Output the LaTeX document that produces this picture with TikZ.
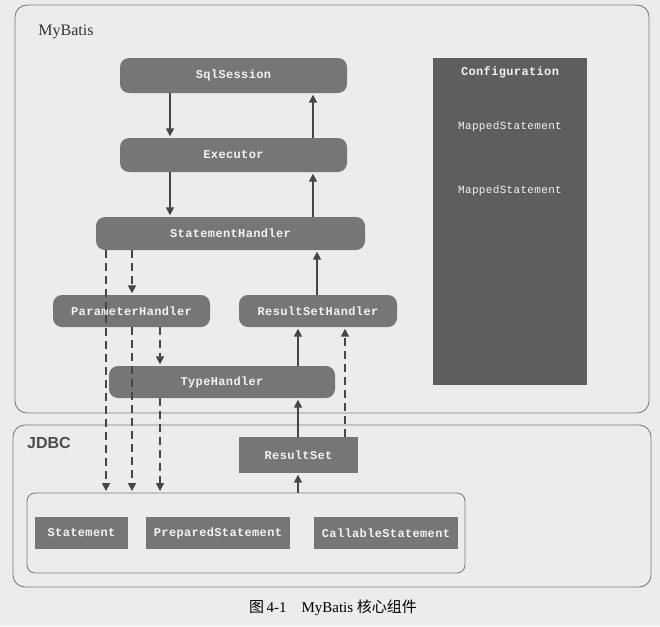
\documentclass[tikz,border=0pt]{standalone}
\usepackage{fontspec}
\setmainfont{Liberation Serif}
\setsansfont{Liberation Sans}
\newfontfamily\codefont[LetterSpace=3]{Liberation Mono}
\newfontfamily\cjk{Noto Sans CJK SC}
\usetikzlibrary{arrows.meta}
\definecolor{paper}{RGB}{236,236,234}
\definecolor{boxgray}{RGB}{118,118,118}
\definecolor{panelgray}{RGB}{94,94,94}
\definecolor{linegray}{RGB}{70,70,70}
\definecolor{framegray}{RGB}{125,125,125}
\definecolor{txtwhite}{RGB}{242,242,242}

\begin{document}
\begin{tikzpicture}
[x=1pt,y=-1pt,
 comp/.style={rounded corners=9pt,fill=boxgray,text=txtwhite,inner sep=0pt,
   font=\codefont\bfseries\fontsize{12}{13}\selectfont},
 jdbcbox/.style={fill=boxgray,text=txtwhite,inner sep=0pt,
   font=\codefont\bfseries\fontsize{12}{13}\selectfont},
 panel/.style={fill=panelgray,inner sep=0pt},
 paneltext/.style={text=txtwhite,font=\codefont\fontsize{11}{12}\selectfont},
 layer/.style={draw=framegray,line width=0.9pt,rounded corners=12pt},
 flow/.style={draw=linegray,line width=1.6pt,shorten >=1.5pt,-{Triangle[length=8pt,width=8pt]}},
 dflow/.style={flow,dash pattern=on 8pt off 5pt}]
\fill[paper] (0,0) rectangle (660,626);
\useasboundingbox (0,0) rectangle (660,626);
\draw[layer] (15,5) rectangle (649,413);
\draw[layer] (13,425) rectangle (651,587);
\node[font=\fontsize{16}{18}\selectfont,text=black!80] (mblbl) at (66,32) {MyBatis};
\node[font=\sffamily\bfseries\fontsize{16}{18}\selectfont,text=black!70] (jdbclbl) at (49,443) {JDBC};

\node[comp,minimum width=227pt,minimum height=35pt] (sq) at (233.5,75.5) {SqlSession};
\node[comp,minimum width=227pt,minimum height=34pt] (ex) at (233.5,155) {Executor};
\node[comp,minimum width=269pt,minimum height=33pt] (sh) at (230.5,233.5) {StatementHandler};
\node[comp,minimum width=157pt,minimum height=32pt] (ph) at (131.5,311) {ParameterHandler};
\node[comp,minimum width=158pt,minimum height=32pt] (rsh) at (318,311) {ResultSetHandler};
\node[comp,minimum width=226pt,minimum height=32pt] (th) at (222,382) {TypeHandler};

\node[panel,minimum width=154pt,minimum height=327pt] (cfg) at (510,221.5) {};
\node[paneltext,font=\codefont\bfseries\fontsize{12}{13}\selectfont] (cfgname) at (510,72) {Configuration};
\node[paneltext] (ms1) at (510,127) {MappedStatement};
\node[paneltext] (ms2) at (510,191) {MappedStatement};

\node[jdbcbox,minimum width=119pt,minimum height=36pt] (rs) at (298.5,455) {ResultSet};
\node[draw=framegray,line width=0.9pt,rounded corners=8pt,minimum width=438pt,minimum height=80pt] (grp) at (246,533) {};
\node[jdbcbox,minimum width=93pt,minimum height=32pt] (st) at (81.5,533) {Statement};
\node[jdbcbox,minimum width=144pt,minimum height=32pt] (pst) at (218,533) {PreparedStatement};
\node[jdbcbox,minimum width=144pt,minimum height=32pt] (cst) at (386,533) {CallableStatement};

\coordinate (colA) at (106,0); \coordinate (colB) at (132,0); \coordinate (colC) at (160,0);
\coordinate (colL) at (170,0); \coordinate (colR) at (298,0); \coordinate (colU) at (313,0);
\coordinate (colS) at (317,0); \coordinate (colD) at (345,0);

\draw[flow] (sq.south -| colL) -- (ex.north -| colL);
\draw[flow] (ex.north -| colU) -- (sq.south -| colU);
\draw[flow] (ex.south -| colL) -- (sh.north -| colL);
\draw[flow] (sh.north -| colU) -- (ex.south -| colU);
\draw[flow] (rsh.north -| colS) -- (sh.south -| colS);
\draw[dflow] (sh.south -| colB) -- (ph.north -| colB);
\draw[dflow] (sh.south -| colA) -- (grp.north -| colA);
\draw[dflow] (ph.south -| colB) -- (grp.north -| colB);
\draw[dflow] (ph.south -| colC) -- (th.north -| colC);
\draw[dflow] (th.south -| colC) -- (grp.north -| colC);
\draw[flow] (th.north -| colR) -- (rsh.south -| colR);
\draw[flow] (rs.north -| colR) -- (th.south -| colR);
\draw[dflow] (rs.north -| colD) -- (rsh.south -| colD);
\draw[flow] (grp.north -| colR) -- (rs.south -| colR);

\node[font=\fontsize{15}{17}\selectfont] (cap) at (333,608) {{\cjk 图}\,4-1\quad MyBatis {\cjk 核心组件}};
\end{tikzpicture}
\end{document}
